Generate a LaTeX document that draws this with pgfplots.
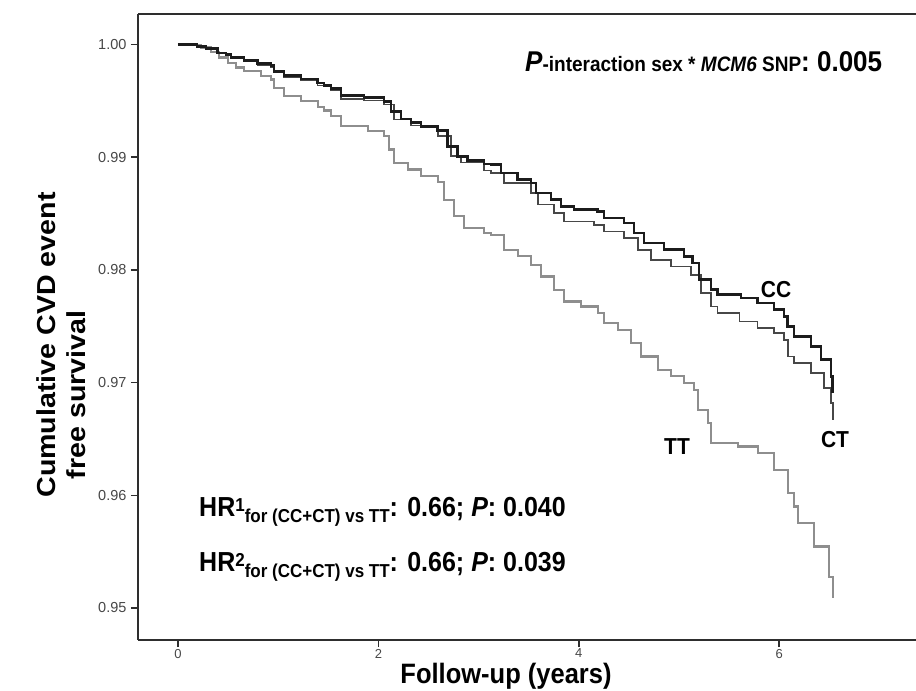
\documentclass[border=0pt]{standalone}
\usepackage{graphicx}
\usepackage{pgfplots}
\pgfplotsset{compat=1.18}
\usepackage{fontspec}
\setmainfont{Liberation Sans}
\definecolor{ccc}{HTML}{1C1C1C}
\definecolor{ctc}{HTML}{474747}
\definecolor{ttc}{HTML}{8E8E8E}
\definecolor{axc}{HTML}{2E2E2E}
\definecolor{tkc}{HTML}{474747}
\newcommand{\fs}[1]{\fontsize{#1}{#1}\selectfont}
\newcommand{\vs}[1]{\scalebox{1}[1.1]{#1}}
\begin{document}
\begin{tikzpicture}
\path[use as bounding box] (0,0) rectangle (916pt,691pt);
\begin{axis}[
  at={(138pt,51pt)}, anchor=south west,
  width=778pt, height=626pt, scale only axis,
  xmin=-0.399, xmax=7.365, ymin=0.947161, ymax=1.002706,
  axis x line*=box, axis y line*=left,
  tick pos=left,
  xtick={0,2,4,6}, ytick={0.95,0.96,0.97,0.98,0.99,1.00},
  tick align=outside, major tick length=7pt,
  major tick style={axc, line width=1.5pt},
  axis line style={axc, line width=1.8pt},
  /pgf/number format/assume math mode=true,
  yticklabel style={/pgf/number format/.cd, fixed, fixed zerofill, precision=2, assume math mode=true, /tikz/.cd, font=\fs{14.5}, text=tkc, xshift=-1pt},
  xticklabel style={font=\fs{13}, text=tkc, yshift=1.5pt},
  scaled y ticks=false,
  clip=false,
]
\addplot[const plot, ttc, line width=2.2pt] table {
0 1.0000
0.13 0.99996
0.23 0.99973
0.329 0.99932
0.409 0.99885
0.496 0.99838
0.579 0.99796
0.659 0.99763
0.828 0.99718
0.928 0.99689
0.958 0.99615
1.058 0.99541
1.228 0.99497
1.394 0.99447
1.457 0.99414
1.527 0.99363
1.627 0.99274
1.893 0.99230
2.056 0.99186
2.106 0.99068
2.156 0.98949
2.292 0.98890
2.425 0.98830
2.592 0.98777
2.655 0.98623
2.754 0.98475
2.854 0.98372
3.054 0.98328
3.124 0.98313
3.254 0.98179
3.390 0.98120
3.523 0.98046
3.623 0.97942
3.753 0.97824
3.852 0.97720
4.022 0.97676
4.189 0.97617
4.251 0.97528
4.388 0.97469
4.521 0.97351
4.621 0.97232
4.787 0.97114
4.920 0.97055
5.050 0.96996
5.150 0.96936
5.187 0.96758
5.287 0.96641
5.319 0.96463
5.586 0.96433
5.785 0.96374
5.948 0.96226
6.085 0.96019
6.148 0.95900
6.185 0.95752
6.347 0.95545
6.497 0.95278
6.534 0.95086
};
\addplot[const plot, ctc, line width=1.6pt] table {
0 1.0000
0.13 1.0000
0.19 0.99978
0.28 0.99956
0.396 0.99920
0.529 0.99876
0.659 0.99849
0.795 0.99818
0.928 0.99796
0.958 0.99751
1.058 0.99707
1.228 0.99680
1.394 0.99636
1.527 0.99592
1.627 0.99518
1.856 0.99503
2.056 0.99467
2.156 0.99334
2.325 0.99281
2.592 0.99186
2.725 0.99008
2.824 0.98952
3.054 0.98881
3.124 0.98861
3.254 0.98772
3.523 0.98683
3.590 0.98579
3.753 0.98505
3.852 0.98431
4.152 0.98401
4.251 0.98342
4.451 0.98283
4.588 0.98179
4.721 0.98090
4.920 0.98031
5.120 0.97957
5.220 0.97795
5.319 0.97676
5.386 0.97617
5.602 0.97543
5.785 0.97484
5.948 0.97440
6.048 0.97380
6.085 0.97232
6.148 0.97174
6.317 0.97085
6.447 0.96952
6.517 0.96818
6.534 0.96670
};
\addplot[const plot, ccc, line width=2.6pt] table {
0 1.0000
0.13 1.0000
0.19 0.99982
0.28 0.99964
0.396 0.99926
0.48 0.99911
0.529 0.99882
0.659 0.99858
0.795 0.99829
0.928 0.99814
0.958 0.99763
1.058 0.99725
1.228 0.99695
1.394 0.99660
1.457 0.99636
1.527 0.99607
1.627 0.99547
1.856 0.99527
2.056 0.99496
2.126 0.99408
2.226 0.99340
2.325 0.99307
2.425 0.99274
2.592 0.99236
2.692 0.99097
2.791 0.99008
2.891 0.98972
3.054 0.98941
3.124 0.98934
3.224 0.98861
3.390 0.98801
3.523 0.98772
3.573 0.98683
3.723 0.98624
3.822 0.98564
3.952 0.98535
4.189 0.98520
4.251 0.98461
4.451 0.98417
4.551 0.98328
4.651 0.98239
4.850 0.98179
5.050 0.98120
5.137 0.98061
5.200 0.97913
5.319 0.97824
5.386 0.97780
5.619 0.97751
5.785 0.97706
5.948 0.97647
6.048 0.97587
6.085 0.97498
6.148 0.97410
6.317 0.97321
6.417 0.97203
6.517 0.97054
6.534 0.96907
};
\end{axis}
% annotations (picture units: 1pt = 1 reference pixel)
\node[anchor=base west, inner sep=0pt] at (525pt,619pt)
  {\vs{\fs{19}\bfseries{\fs{26}\itshape P}-interaction sex * {\itshape MCM6} SNP{\fs{26}: 0.005}}};
\node[font=\fs{21}\bfseries, inner sep=0pt] at (776pt,401pt) {\vs{CC}};
\node[font=\fs{21}\bfseries, inner sep=0pt] at (835pt,251pt) {\vs{CT}};
\node[font=\fs{21}\bfseries, inner sep=0pt] at (677pt,244pt) {\vs{TT}};
\node[anchor=base west, inner sep=0pt] at (199pt,174pt)
  {\vs{\fs{25}\bfseries HR\raisebox{5pt}{\fs{17}1}\raisebox{-5pt}{\fs{17}for (CC+CT) vs TT}: 0.66; \textit{P}: 0.040}};
\node[anchor=base west, inner sep=0pt] at (199pt,119pt)
  {\vs{\fs{25}\bfseries HR\raisebox{5pt}{\fs{17}2}\raisebox{-5pt}{\fs{17}for (CC+CT) vs TT}: 0.66; \textit{P}: 0.039}};
\node[anchor=base, inner sep=0pt, font=\fs{25.5}\bfseries] at (506pt,7pt) {\vs{Follow-up (years)}};
\node[rotate=90, anchor=base, inner sep=0pt, font=\fs{26}\bfseries] at (55pt,346pt) {\scalebox{1.1}[1]{Cumulative CVD event}};
\node[rotate=90, anchor=base, inner sep=0pt, font=\fs{26}\bfseries] at (85pt,296pt) {\scalebox{1.1}[1]{free survival}};
\end{tikzpicture}
\end{document}
